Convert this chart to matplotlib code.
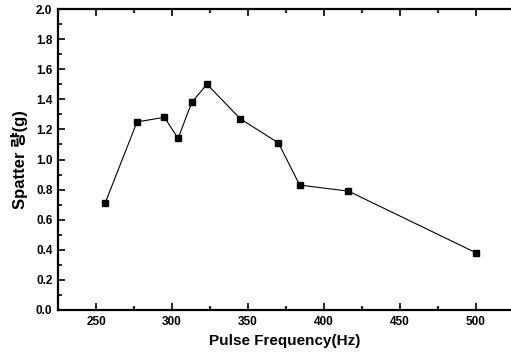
import matplotlib
matplotlib.use("Agg")
import matplotlib.pyplot as plt
from matplotlib.ticker import MultipleLocator

freq = [256, 277, 295, 304, 313, 323, 345, 370, 384, 416, 500]
spatter = [0.71, 1.25, 1.28, 1.14, 1.38, 1.50, 1.27, 1.11, 0.83, 0.79, 0.38]
xticks = [250, 300, 350, 400, 450, 500]
yticks = [0.0, 0.2, 0.4, 0.6, 0.8, 1.0, 1.2, 1.4, 1.6, 1.8, 2.0]

plt.rcParams['font.family'] = ['Liberation Sans', 'Noto Sans CJK KR', 'DejaVu Sans']

fig = plt.figure(figsize=(5.11, 3.58), dpi=100)
ax = fig.add_axes([58/511, 1-310/358, 1-58/511, (310-9)/358])

ax.plot(freq, spatter, color='black', lw=0.8, marker='s', ms=4.5,
        mfc='black', mec='black')

ax.set_xlim(225, 523)
ax.set_ylim(0.0, 2.0)
ax.set_xticks(xticks)
ax.set_yticks(yticks)
ax.set_yticklabels([f"{v:.1f}" for v in yticks])
ax.xaxis.set_minor_locator(MultipleLocator(25))
ax.yaxis.set_minor_locator(MultipleLocator(0.1))
ax.tick_params(which='both', direction='in', top=True, right=False, width=1.2)
ax.tick_params(which='major', length=5, labelsize=8.5, pad=4)
ax.tick_params(which='minor', length=3)
for lab in ax.get_xticklabels() + ax.get_yticklabels():
    lab.set_fontweight('bold')

for s in ['left', 'bottom', 'top']:
    ax.spines[s].set_linewidth(1.6)
ax.spines['right'].set_visible(False)

ax.set_xlabel('Pulse Frequency(Hz)', fontsize=11, fontweight='bold', labelpad=5)
ax.set_ylabel('Spatter 량(g)', fontsize=12, fontweight='bold', labelpad=6)

fig.savefig('out.png', dpi=100)
